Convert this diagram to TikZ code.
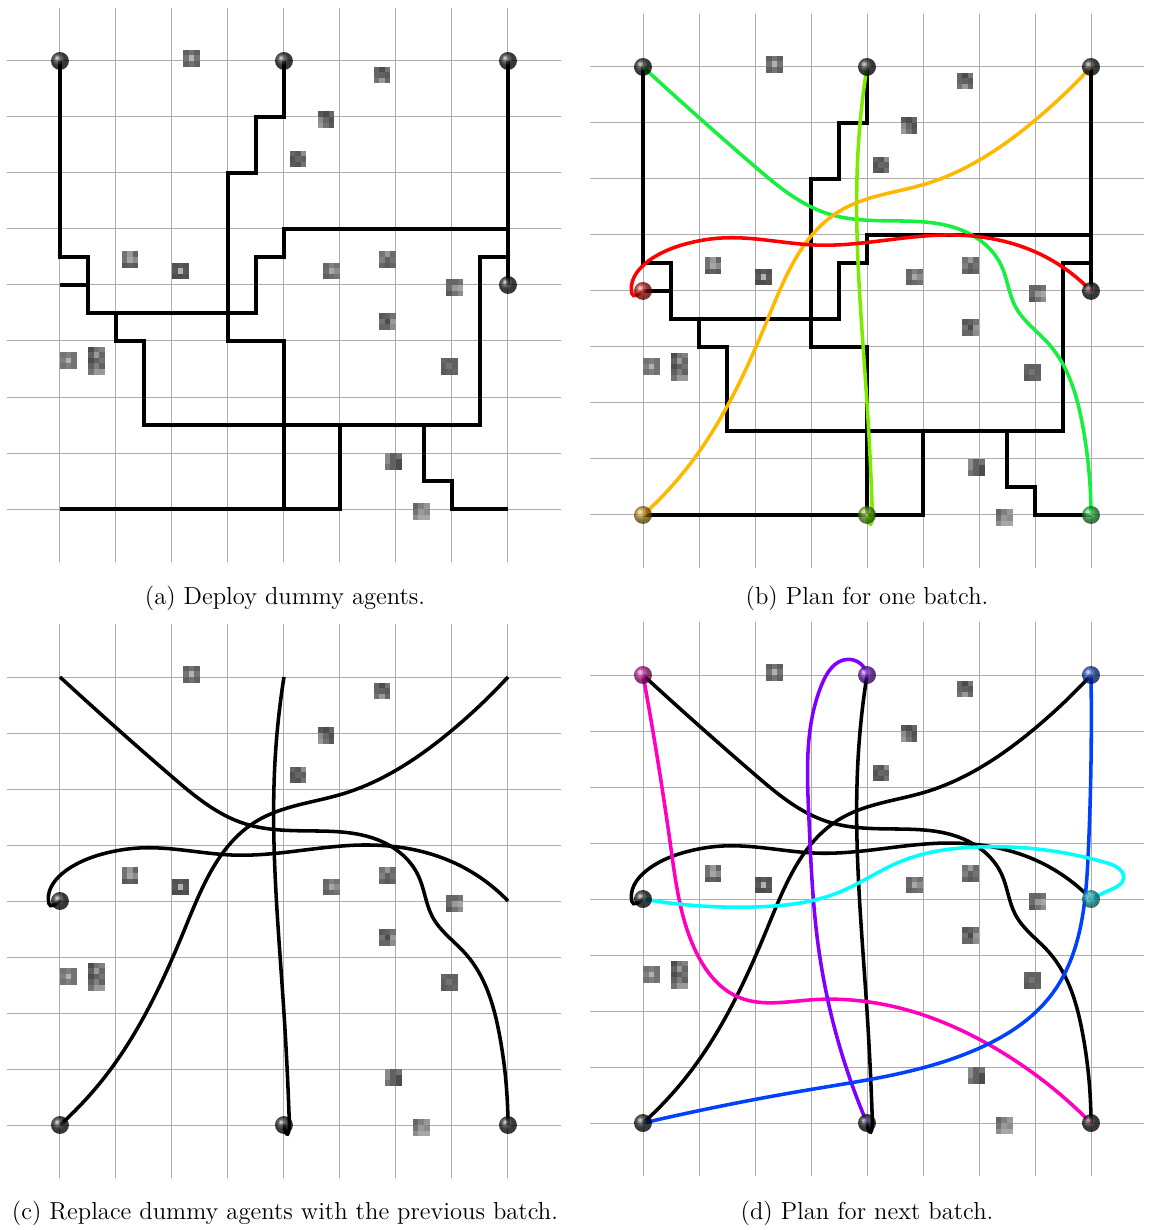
\documentclass[tikz,border=0pt]{standalone}
\usepackage{fontspec}
\usepackage{tikz}
\usetikzlibrary{hobby}
\definecolor{trajgreen}{RGB}{20,240,60}
\definecolor{trajlime}{RGB}{125,235,0}
\definecolor{trajorange}{RGB}{255,184,0}
\definecolor{trajred}{RGB}{255,0,0}
\definecolor{trajmagenta}{RGB}{255,0,190}
\definecolor{trajviolet}{RGB}{128,0,255}
\definecolor{trajblue}{RGB}{0,64,255}
\definecolor{trajcyan}{RGB}{0,255,255}
\tikzset{
  gridline/.style={black!32, line width=0.5pt},
  route/.style={line width=1.8pt},
  traj/.style={line width=1.8pt, draw=#1, use Hobby shortcut},
  hook/.style={line width=1.8pt, draw=#1, line cap=round},
  agent/.style={circle, inner sep=0pt, minimum size=0.32cm, ball color=#1, opacity=0.78},
  caption/.style={anchor=base, font=\fontsize{12.5}{15}\selectfont}
}

% obstacle: top-left corner, list of shades (3 per row)
\newcommand{\obst}[3]{%
  \foreach \s [count=\k from 0] in {#3}{%
    \pgfmathsetmacro{\ox}{#1+0.1*mod(\k,3)}%
    \pgfmathsetmacro{\oy}{#2-0.1*(floor(\k/3)+1)}%
    \fill[black!\s] (\ox,\oy) rectangle ++(0.1,0.1);
  }}

% grid, obstacles and agent positions of one panel
\newcommand{\field}[1]{%
  \foreach \i in {0,...,8}{
    \draw[gridline] (-0.94,\i) -- (8.94,\i);
    \draw[gridline] (\i,-0.94) -- (\i,8.94);
  }
  \obst{2.2}{8.2}{62,55,62,55,30,55,62,55,62}
  \obst{5.6}{7.9}{60,70,55,60,62,65,55,40,60}
  \obst{4.6}{7.1}{65,70,60,45,60,68,40,55,65}
  \obst{4.1}{6.4}{60,65,45,68,60,62,65,68,55}
  \obst{1.1}{4.6}{55,40,60,55,35,45,65,62,65}
  \obst{2.0}{4.4}{68,65,68,65,30,65,70,70,68}
  \obst{4.7}{4.4}{60,50,55,58,35,45,62,58,55}
  \obst{5.7}{4.6}{55,40,58,50,62,55,60,65,60}
  \obst{6.9}{4.1}{60,60,55,58,40,35,65,55,45}
  \obst{5.7}{3.5}{65,62,55,55,70,40,60,60,45}
  \obst{0.0}{2.8}{55,50,55,50,30,55,55,50,55}
  \obst{0.5}{2.9}{70,55,50,62,40,60,70,62,55,62,50,62,55,40,40}
  \obst{6.8}{2.7}{60,62,62,62,55,62,65,62,60}
  \obst{5.8}{1.0}{45,62,55,45,62,70,55,62,70}
  \obst{6.3}{0.1}{60,50,40,55,40,45,45,35,35}
  \foreach \n/\x/\y in {nw/0/8,n/4/8,ne/8/8,w/0/4,e/8/4,sw/0/0,s/4/0,se/8/0}
    \coordinate (#1-\n) at (\x,\y);
}

% routes of the dummy agents
\newcommand{\dummyroutes}[1]{%
  \draw[route] (#1-nw) -- (0,4.5) -- (0.5,4.5) -- (0.5,3.5) -- (3.5,3.5) -- (3.5,4.5) -- (4,4.5) -- (4,5) -- (8,5);
  \draw[route] (#1-ne) -- (#1-e);
  \draw[route] (8,4.5) -- (7.5,4.5) -- (7.5,1.5) -- (1.5,1.5) -- (1.5,3) -- (1,3) -- (1,3.5);
  \draw[route] (#1-w) -- (0.5,4);
  \draw[route] (#1-n) -- (4,7) -- (3.5,7) -- (3.5,6) -- (3,6) -- (3,3) -- (4,3) -- (#1-s);
  \draw[route] (#1-sw) -- (5,0) -- (5,1.5);
  \draw[route] (6.5,1.5) -- (6.5,0.5) -- (7,0.5) -- (7,0) -- (#1-se);
}

% first batch
\newcommand{\batchone}[5]{%
  \draw[traj=#2] (#1-nw) .. (2.0,6.22) .. (3.3,5.38) .. (4.6,5.25) .. (5.6,5.12) .. (6.4,4.45) .. (6.65,3.72) .. (7.25,3.05) .. (7.85,1.6) .. (#1-se);
  \draw[traj=#3] (#1-n) .. (3.84,6.5) .. (3.84,4.5) .. (4.0,2.0) .. (4.09,0.2);
  \draw[hook=#3] (4.09,0.2) .. controls (4.12,-0.3) and (4.02,-0.2) .. (#1-s);
  \draw[traj=#4] (#1-sw) .. (0.81,0.87) .. (2.24,3.53) .. (3.5,5.42) .. (5.04,5.91) .. (6.99,7.04) .. (#1-ne);
  \draw[traj=#5] (#1-e) .. (7.0,4.7) .. (5.4,5.0) .. (3.1,4.82) .. (1.5,4.95) .. (0.8,4.85);
  \draw[hook=#5] (0.8,4.85) .. controls (0.2,4.7) and (-0.28,4.35) .. (-0.2,3.96) .. controls (-0.18,3.86) and (-0.06,3.95) .. (#1-w);
}

\begin{document}
\begin{tikzpicture}
\useasboundingbox (0,0) rectangle (20.536,-21.964);

% (a)
\begin{scope}[shift={(1.071,-9.089)}]
  \field{a}
  \dummyroutes{a}
  \foreach \n in {nw,n,ne,e}
    \node[agent=black] (a-\n-dot) at (a-\n) {};
\end{scope}
\node[caption] (capa) at (5.089,-10.80) {(a) Deploy dummy agents.};

% (b)
\begin{scope}[shift={(11.482,-9.196)}]
  \field{b}
  \dummyroutes{b}
  \batchone{b}{trajgreen}{trajlime}{trajorange}{trajred}
  \foreach \n/\c in {nw/black,n/black,ne/black,e/black,w/trajred,sw/trajorange,s/trajlime,se/trajgreen}
    \node[agent=\c!65!black] (b-\n-dot) at (b-\n) {};
\end{scope}
\node[caption] (capb) at (15.482,-10.80) {(b) Plan for one batch.};

% (c)
\begin{scope}[shift={(1.071,-20.089)}]
  \field{c}
  \batchone{c}{black}{black}{black}{black}
  \foreach \n in {w,sw,s,se}
    \node[agent=black] (c-\n-dot) at (c-\n) {};
\end{scope}
\node[caption] (capc) at (5.089,-21.78) {(c) Replace dummy agents with the previous batch.};

% (d)
\begin{scope}[shift={(11.482,-20.054)}]
  \field{d}
  \batchone{d}{black}{black}{black}{black}
  \draw[traj=trajmagenta] (d-nw) .. (0.5,4.9) .. (0.95,3.05) .. (1.7,2.25) .. (3.0,2.2) .. (4.6,2.05) .. (6.3,1.33) .. (d-se);
  \draw[traj=trajviolet] (d-s) .. (3.13,3.16) .. (2.96,5.5) .. (3.2,7.85) .. (3.66,8.28) .. (d-n);
  \draw[traj=trajblue] (d-sw) .. (3.0,0.6) .. (5.99,1.33) .. (7.3,2.3) .. (7.95,4.81) .. (d-ne);
  \draw[traj=trajcyan] (d-w) .. (2.04,3.86) .. (3.5,4.12) .. (4.6,4.67) .. (6.0,4.93) .. (7.3,4.86) .. (8.3,4.64) .. (8.58,4.36) .. (8.38,4.18) .. (d-e);
  \foreach \n/\c in {nw/trajmagenta,n/trajviolet,ne/trajblue,e/trajcyan,w/black,sw/black,s/black,se/black}
    \node[agent=\c!65!black] (d-\n-dot) at (d-\n) {};
\end{scope}
\node[caption] (capd) at (15.482,-21.78) {(d) Plan for next batch.};
\end{tikzpicture}
\end{document}
